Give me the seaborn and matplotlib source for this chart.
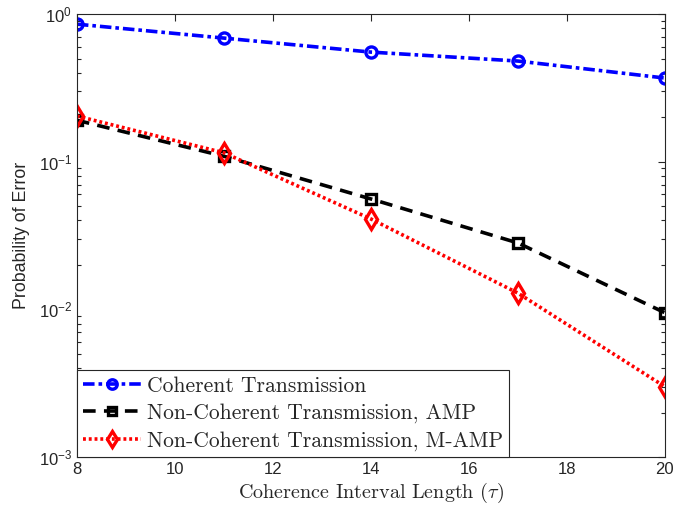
import numpy as np
import pandas as pd
import matplotlib
matplotlib.use("Agg")
import matplotlib.pyplot as plt
import seaborn as sns
from matplotlib.ticker import LogLocator, NullFormatter

sns.set_theme(style="white")
plt.rcParams['font.family'] = ['Liberation Sans', 'DejaVu Sans']
plt.rcParams['mathtext.fontset'] = 'cm'
plt.rcParams['axes.unicode_minus'] = False

tau = [8, 11, 14, 17, 20]
coherent = [0.855, 0.688, 0.553, 0.481, 0.369]
amp = [0.191, 0.109, 0.056, 0.0282, 0.0095]
mamp = [0.204, 0.115, 0.041, 0.0129, 0.0030]
labels = ["Coherent Transmission",
          "Non-Coherent Transmission, AMP",
          "Non-Coherent Transmission, M-AMP"]
xticks = [8, 10, 12, 14, 16, 18, 20]

df = pd.DataFrame({
    "tau": tau * 3,
    "pe": coherent + amp + mamp,
    "series": [labels[0]] * 5 + [labels[1]] * 5 + [labels[2]] * 5,
})

fig = plt.figure(figsize=(6.99, 5.15), dpi=100)
ax = fig.add_axes([0.110, 0.1126, 0.841, 0.860])

styles = [
    dict(color="#0000ff", ls=(0, (3.2, 1.1, 1, 1.1)), marker="o", ms=8),
    dict(color="black", ls=(0, (3.5, 2.3)), marker="s", ms=7),
    dict(color="#ff0000", ls=(0, (0.8, 0.8)), marker="d", ms=10),
]
for lab, st in zip(labels, styles):
    sub = df[df.series == lab]
    sns.lineplot(data=sub, x="tau", y="pe", ax=ax, label=lab,
                 color=st["color"], linestyle=st["ls"], linewidth=2.6,
                 marker=st["marker"], markersize=st["ms"],
                 markerfacecolor="none", markeredgecolor=st["color"],
                 markeredgewidth=2.4, estimator=None, errorbar=None)

ax.set_yscale("log")
ax.set_xlim(8, 20)
ax.set_ylim(1e-3, 1)
ax.set_xticks(xticks)
ax.set_xticklabels([str(t) for t in xticks])
ax.yaxis.set_major_locator(LogLocator(base=10, numticks=10))
ax.yaxis.set_minor_locator(LogLocator(base=10, subs=np.arange(2, 10), numticks=10))
ax.yaxis.set_minor_formatter(NullFormatter())
ax.tick_params(axis="both", which="both", direction="in", top=True, right=True,
               labelsize=12, colors="#262626", width=0.8)
ax.tick_params(which="major", length=5)
ax.tick_params(which="minor", length=3, left=True, right=True)
for sp in ax.spines.values():
    sp.set_color("#262626")
    sp.set_linewidth(0.8)

ax.set_xlabel(r"Coherence Interval Length ($\tau$)", family="cmr10", fontsize=14.5,
              color="#262626", labelpad=3)
ax.set_ylabel("Probability of Error", fontsize=12.8, color="#262626", labelpad=6)

leg = ax.legend(loc="lower left", prop={"family": "cmr10", "size": 15.5},
                frameon=True, fancybox=False, edgecolor="#262626",
                borderpad=0.3, labelspacing=0.35, handlelength=2.7,
                handletextpad=0.25, borderaxespad=0.0, markerscale=0.85)
leg.get_frame().set_linewidth(0.8)
leg.get_frame().set_alpha(1)

fig.savefig("out.png", dpi=100)
